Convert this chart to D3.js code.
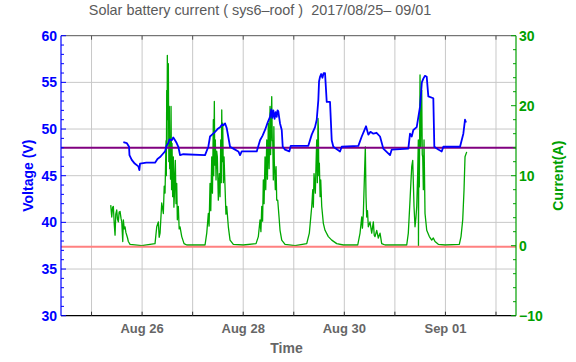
<!DOCTYPE html>
<html><head><meta charset="utf-8">
<script src="https://cdn.jsdelivr.net/npm/d3@7"></script>
<style>body{margin:0;background:#fff}svg{display:block}text{font-family:"Liberation Sans",Arial,Helvetica,sans-serif}</style>
</head><body><svg id="c" width="576" height="362"></svg>
<script>
// Hours since 2017-08-25 00:00
const voltageHours = [15.10,16.71,17.80,18.0,19.08,20.5,22.22,22.69,23.02,26.0,30.14,31.3,32.52,33.7,34.89,35.6,36.46,37.0,38.07,38.8,39.64,40.4,41.20,42.01,43.58,53.88,55.44,56.25,57.2,58.63,59.8,61.00,62.0,62.57,63.4,64.18,65.75,67.31,69.69,70.49,71.30,78.42,79.99,81.2,82.36,83.6,84.73,85.3,85.8,86.30,86.9,87.4,87.91,88.3,88.67,89.1,89.48,90.29,90.76,91.85,93.89,94.56,102.91,104.53,106.09,106.90,107.66,108.0,108.47,109.0,109.6,110.2,110.84,111.65,113.21,114.02,114.78,117.96,118.76,126.65,128.27,129.4,130.30,131.39,132.4,133.77,135.3,136.95,138.51,141.69,142.50,150.38,151.19,152.0,152.76,154.37,155.94,156.8,157.51,158.3,159.12,159.88,162.25,162.73,164.62,166.24,167.00,174.93,176.50,177.30,177.78];
const voltageValues = [48.6,48.5,48.1,47.2,46.7,46.3,46.0,45.6,46.3,46.4,46.4,46.8,47.0,47.3,47.6,48.2,48.5,48.9,48.8,49.1,48.8,48.5,48.1,47.2,47.3,47.2,48.1,49.2,49.4,49.7,50.0,50.2,50.5,50.4,50.6,50.1,48.1,47.9,47.6,47.2,47.6,47.6,48.8,49.3,49.9,50.7,51.3,52.1,51.2,52.0,51.1,51.8,51.3,52.0,51.9,51.2,50.6,49.9,48.1,47.8,47.6,48.2,48.2,49.4,50.2,51.0,53.1,55.1,55.6,55.9,55.5,56.0,56.0,52.9,52.9,48.8,48.1,47.6,48.1,48.2,49.2,49.8,50.3,49.4,49.7,49.5,49.6,49.2,47.9,47.2,47.8,47.9,49.5,49.2,49.9,50.2,52.4,55.0,55.4,55.7,55.6,53.5,53.3,48.1,47.8,47.6,48.1,48.1,49.5,51.0,50.7];

const currentHours = [9.11,9.59,10.0,10.35,10.8,11.16,11.5,11.96,12.3,12.72,13.1,13.53,14.0,14.34,14.81,15.10,15.5,15.90,16.3,16.71,17.1,17.47,18.28,23.83,30.14,30.95,31.71,32.1,32.52,33.32,34.08,34.5,34.89,35.36,35.5,35.69,35.85,35.98,36.2,36.46,36.7,36.93,37.1,37.26,37.5,37.74,38.0,38.21,38.5,38.83,39.1,39.31,39.55,39.78,40.1,40.44,40.73,41.20,41.6,42.01,42.82,43.91,45.19,53.88,54.69,55.44,55.8,56.25,56.6,57.06,57.4,57.82,58.0,58.29,58.5,58.77,59.10,59.4,59.72,60.19,60.67,61.0,61.33,61.6,61.81,62.05,62.28,62.6,62.90,63.37,63.8,64.18,64.94,65.75,67.31,72.06,78.09,79.18,79.99,80.4,80.80,81.2,81.55,81.9,82.36,82.7,83.17,83.5,83.93,84.3,84.73,85.0,85.54,85.8,86.02,86.30,86.55,86.77,87.25,87.6,87.91,88.39,89.01,89.48,90.29,91.85,96.60,102.16,103.39,104.53,105.01,105.3,105.62,106.24,106.6,106.90,107.2,107.5,107.66,107.9,108.14,108.5,108.80,109.28,110.04,110.84,112.41,114.02,116.40,119.53,126.37,127.46,128.27,128.6,129.03,129.50,129.97,130.30,130.63,131.0,131.39,132.20,133.00,133.77,134.2,134.57,135.38,136.14,136.95,137.75,139.32,149.63,150.38,151.19,151.6,152.00,152.47,153.09,153.56,154.0,154.37,154.8,155.13,155.2,155.3,155.60,155.94,156.2,156.41,156.74,157.0,157.22,157.51,157.84,158.31,159.12,160.36,161.49,162.25,163.06,164.62,167.81,174.59,175.40,176.21,176.83,177.30,178.11];
const currentValues = [5.8,4.1,5.5,5.6,3.0,1.5,4.5,5.1,3.8,3.4,4.8,4.9,3.9,3.4,0.6,3.7,2.4,2.7,1.9,1.5,1.1,0.6,0.2,0.0,0.3,2.7,3.4,1.2,1.8,6.1,4.6,8.5,7.5,15.0,10.0,22.2,14.0,27.2,18.0,26.0,12.0,19.9,11.0,15.1,9.5,19.9,8.0,14.6,7.0,12.7,5.5,7.0,10.5,12.2,6.0,8.9,3.7,5.6,2.4,2.7,1.3,0.3,0.1,0.1,1.8,4.6,2.8,8.9,5.0,12.7,7.5,18.0,10.0,20.6,11.5,15.1,9.4,13.5,12.7,6.5,10.3,7.0,15.1,9.0,19.4,12.0,17.5,9.0,12.7,8.4,4.5,5.6,2.7,0.8,0.2,0.1,0.3,1.3,3.7,2.0,5.6,3.5,9.4,6.0,12.7,8.0,15.1,9.5,17.5,11.0,19.9,13.0,21.3,15.0,15.0,9.4,17.0,12.0,8.0,11.3,6.5,6.5,4.1,2.2,0.8,0.2,0.0,0.3,1.8,5.6,8.0,5.5,10.3,7.5,12.0,15.1,9.0,18.2,17.0,10.0,11.8,7.0,9.4,5.6,3.2,2.2,1.3,0.8,0.3,0.1,0.1,1.8,4.1,2.5,4.6,9.4,14.1,7.0,4.1,5.0,2.7,3.4,1.8,3.4,1.5,1.3,2.2,1.1,1.8,0.3,0.1,0.1,1.8,6.5,9.0,11.3,12.2,5.6,2.7,4.0,5.6,10.0,15.1,0.0,8.4,8.4,24.4,14.0,17.5,22.2,13.0,12.7,8.0,15.1,4.6,2.2,1.3,0.8,1.1,0.6,0.2,0.1,0.2,1.3,3.7,8.0,12.7,13.4];

const voltageTicks = [30,35,40,45,50,55,60];
const currentTicks = [-10,0,10,20,30];
const dateTickLabels = ["Aug 26","Aug 28","Aug 30","Sep 01"];
const chargeRefVoltage = 48;
const lowRefVoltage = 37.4;
const titleText = "Solar battery current ( sys6\u2013roof )  2017/08/25\u2013 09/01";

const base = new Date(2017,7,25,0,0).getTime();
const toDate = h => new Date(base + h*3600e3);

const L=61, R=516, T=35.7, B=315.7;
const svg = d3.select("#c");
const x = d3.scaleTime().domain([new Date(2017,7,24,9,30), new Date(2017,8,2,9,30)]).range([L,R]);
const yV = d3.scaleLinear().domain([30,60]).range([B,T]);
const yI = d3.scaleLinear().domain([-10,30]).range([B,T]);

const days = d3.timeDay.range(new Date(2017,7,25), new Date(2017,8,3));
const blue="#0000ff", green="#00a000", gray="#666";

// grid
svg.append("g").selectAll("line").data(days).join("line")
  .attr("x1",d=>x(d)).attr("x2",d=>x(d)).attr("y1",T).attr("y2",B)
  .attr("stroke","#c8c8c8").attr("stroke-width",1);
svg.append("g").selectAll("line").data(voltageTicks.slice(1,-1)).join("line")
  .attr("x1",L).attr("x2",R).attr("y1",d=>yV(d)).attr("y2",d=>yV(d))
  .attr("stroke","#c8c8c8").attr("stroke-width",1);

// frame top/bottom
svg.append("line").attr("x1",L).attr("x2",R).attr("y1",T).attr("y2",T).attr("stroke","#555");
svg.append("line").attr("x1",L).attr("x2",R).attr("y1",B).attr("y2",B).attr("stroke","#000").attr("stroke-width",1.2);
svg.append("g").selectAll("line").data(days).join("line")
  .attr("x1",d=>x(d)).attr("x2",d=>x(d)).attr("y1",B).attr("y2",B-4).attr("stroke","#333");
svg.append("g").selectAll("line").data(days).join("line")
  .attr("x1",d=>x(d)).attr("x2",d=>x(d)).attr("y1",T).attr("y2",T+4).attr("stroke","#555");

// current line
const cur = currentHours.map((h,i)=>[toDate(h), currentValues[i]]);
svg.append("path").datum(cur)
  .attr("d", d3.line().x(d=>x(d[0])).y(d=>yI(d[1])))
  .attr("fill","none").attr("stroke","#00a800").attr("stroke-width",1.3).attr("stroke-linejoin","round");

// reference lines
svg.append("line").attr("x1",L).attr("x2",R).attr("y1",yV(lowRefVoltage)).attr("y2",yV(lowRefVoltage))
  .attr("stroke","#ff8080").attr("stroke-width",2);
svg.append("line").attr("x1",L).attr("x2",R).attr("y1",yV(chargeRefVoltage)).attr("y2",yV(chargeRefVoltage))
  .attr("stroke","#800080").attr("stroke-width",2);

// voltage line
const vol = voltageHours.map((h,i)=>[toDate(h), voltageValues[i]]);
svg.append("path").datum(vol)
  .attr("d", d3.line().x(d=>x(d[0])).y(d=>yV(d[1])))
  .attr("fill","none").attr("stroke",blue).attr("stroke-width",1.8).attr("stroke-linejoin","round");

// left axis
svg.append("line").attr("x1",L).attr("x2",L).attr("y1",T).attr("y2",B).attr("stroke",blue).attr("stroke-width",1.2);
svg.append("g").selectAll("line").data(d3.range(30,61,1)).join("line")
  .attr("x1",L).attr("x2",d=>L+(d%5===0?5:3)).attr("y1",d=>yV(d)).attr("y2",d=>yV(d)).attr("stroke",blue);
svg.append("g").selectAll("text").data(voltageTicks).join("text")
  .attr("x",L-4).attr("y",d=>yV(d)+5).attr("text-anchor","end")
  .attr("font-size",14).attr("font-weight","bold").attr("fill",blue).text(d=>d);
svg.append("text").attr("transform",`translate(33,${(T+B)/2}) rotate(-90)`).attr("text-anchor","middle")
  .attr("font-size",14).attr("font-weight","bold").attr("fill",blue).text("Voltage (V)");

// right axis
svg.append("line").attr("x1",R).attr("x2",R).attr("y1",T).attr("y2",B).attr("stroke",green).attr("stroke-width",1.2);
svg.append("g").selectAll("line").data(d3.range(-10,31,2)).join("line")
  .attr("x1",R).attr("x2",d=>R-(d%10===0?5:3)).attr("y1",d=>yI(d)).attr("y2",d=>yI(d)).attr("stroke",green);
svg.append("g").selectAll("text").data(currentTicks).join("text")
  .attr("x",R+3).attr("y",d=>yI(d)+5).attr("text-anchor","start")
  .attr("font-size",14).attr("font-weight","bold").attr("fill",green).text(d=>d<0?"\u2212"+(-d):d);
svg.append("text").attr("transform",`translate(563,${(T+B)/2}) rotate(-90)`).attr("text-anchor","middle")
  .attr("font-size",14).attr("font-weight","bold").attr("fill",green).text("Current(A)");

// bottom labels
const labelDays = [new Date(2017,7,26),new Date(2017,7,28),new Date(2017,7,30),new Date(2017,8,1)];
svg.append("g").selectAll("text").data(labelDays).join("text")
  .attr("x",d=>x(d)).attr("y",B+17).attr("text-anchor","middle")
  .attr("font-size",13).attr("font-weight","bold").attr("fill",gray).text((d,i)=>dateTickLabels[i]);
svg.append("text").attr("x",(L+R)/2-2).attr("y",353).attr("text-anchor","middle")
  .attr("font-size",14).attr("font-weight","bold").attr("fill",gray).text("Time");

// title
svg.append("text").attr("x",260).attr("y",15).attr("text-anchor","middle")
  .style("white-space","pre")
  .attr("font-size",14.4).attr("fill","#5a5a5a").text(titleText);
</script></body></html>
